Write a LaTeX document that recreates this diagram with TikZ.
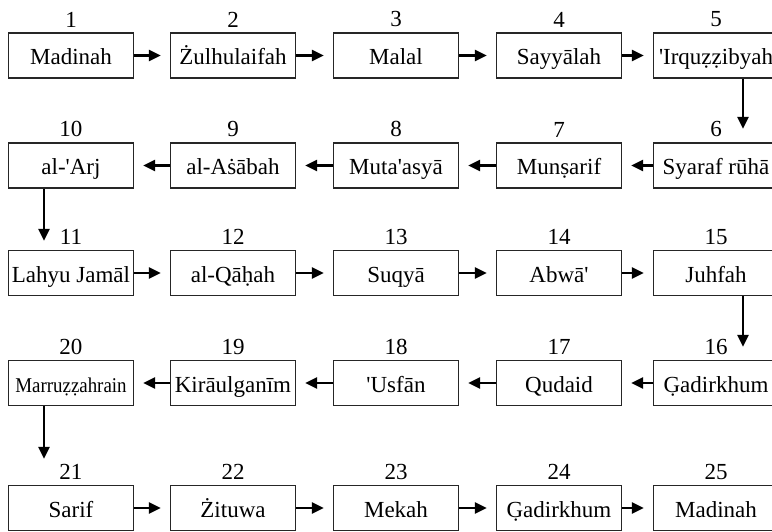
\documentclass[tikz,border=0pt]{standalone}
\usepackage{fontspec}
\setmainfont{Liberation Serif}[Ligatures=TeXOff]
\usetikzlibrary{arrows.meta}

\begin{document}
\begin{tikzpicture}[x=1pt, y=-1pt,
    place/.style={draw=black!85, line width=1.3pt, minimum width=125pt, minimum height=45pt,
      inner sep=1pt, text height=18.5pt, text depth=0pt, font=\fontsize{23}{26}\selectfont},
    go/.style={-{Triangle[length=12pt,width=11pt]}, line width=2.4pt, shorten >=9pt},
    label distance=5pt,
    every label/.style={inner sep=0pt, font=\fontsize{23}{26}\selectfont}]
    \useasboundingbox (0,0) rectangle (772,531);

    % row 1
    \node[place, label=above:1] (n1) at (71, 55.5) {Madinah};
    \node[place, label=above:2] (n2) at (233, 55.5) {Żulhulaifah};
    \node[place, label=above:3] (n3) at (396, 55.5) {Malal};
    \node[place, label=above:4] (n4) at (559, 55.5) {Sayyālah};
    \node[place, label=above:5] (n5) at (716, 55.5) {'Irquẓẓibyah};

    % row 2
    \node[place, label=above:10] (n10) at (71, 165.5) {al-'Arj};
    \node[place, label=above:9] (n9) at (233, 165.5) {al-Aṡābah};
    \node[place, label=above:8] (n8) at (396, 165.5) {Muta'asyā};
    \node[place, label=above:7] (n7) at (559, 165.5) {Munṣarif};
    \node[place, label=above:6] (n6) at (716, 165.5) {Syaraf rūhā};

    % row 3
    \node[place, label=above:11] (n11) at (71, 273) {Lahyu Jamāl};
    \node[place, label=above:12] (n12) at (233, 273) {al-Qāḥah};
    \node[place, label=above:13] (n13) at (396, 273) {Suqyā};
    \node[place, label=above:14] (n14) at (559, 273) {Abwā'};
    \node[place, label=above:15] (n15) at (716, 273) {Juhfah};

    % row 4
    \node[place, label=above:20, font=\fontsize{21}{24}\selectfont] (n20) at (71, 383) {\scalebox{0.9}[1]{Marruẓẓahrain}};
    \node[place, label=above:19] (n19) at (233, 383) {Kirāulganīm};
    \node[place, label=above:18] (n18) at (396, 383) {'Usfān};
    \node[place, label=above:17] (n17) at (559, 383) {Qudaid};
    \node[place, label=above:16] (n16) at (716, 383) {G̣adirkhum};

    % row 5
    \node[place, label=above:21] (n21) at (71, 508) {Sarif};
    \node[place, label=above:22] (n22) at (233, 508) {Żituwa};
    \node[place, label=above:23] (n23) at (396, 508) {Mekah};
    \node[place, label=above:24] (n24) at (559, 508) {G̣adirkhum};
    \node[place, label=above:25] (n25) at (716, 508) {Madinah};

    \draw[go] (n1) -- (n2);
    \draw[go] (n2) -- (n3);
    \draw[go] (n3) -- (n4);
    \draw[go] (n4) -- (n5);
    \draw[go, shorten >=13.5pt] ([xshift=27pt]n5.south) -- ([xshift=27pt]n6.north);

    \draw[go] (n6) -- (n7);
    \draw[go] (n7) -- (n8);
    \draw[go] (n8) -- (n9);
    \draw[go] (n9) -- (n10);
    \draw[go] ([xshift=-27pt]n10.south) -- ([xshift=-27pt]n11.north);

    \draw[go] (n11) -- (n12);
    \draw[go] (n12) -- (n13);
    \draw[go] (n13) -- (n14);
    \draw[go] (n14) -- (n15);
    \draw[go, shorten >=13pt] ([xshift=27pt]n15.south) -- ([xshift=27pt]n16.north);

    \draw[go] (n16) -- (n17);
    \draw[go] (n17) -- (n18);
    \draw[go] (n18) -- (n19);
    \draw[go] (n19) -- (n20);
    \draw[go, shorten >=26pt] ([xshift=-27pt]n20.south) -- ([xshift=-27pt]n21.north);

    \draw[go] (n21) -- (n22);
    \draw[go] (n22) -- (n23);
    \draw[go] (n23) -- (n24);
    \draw[go] (n24) -- (n25);
  \end{tikzpicture}
\end{document}
